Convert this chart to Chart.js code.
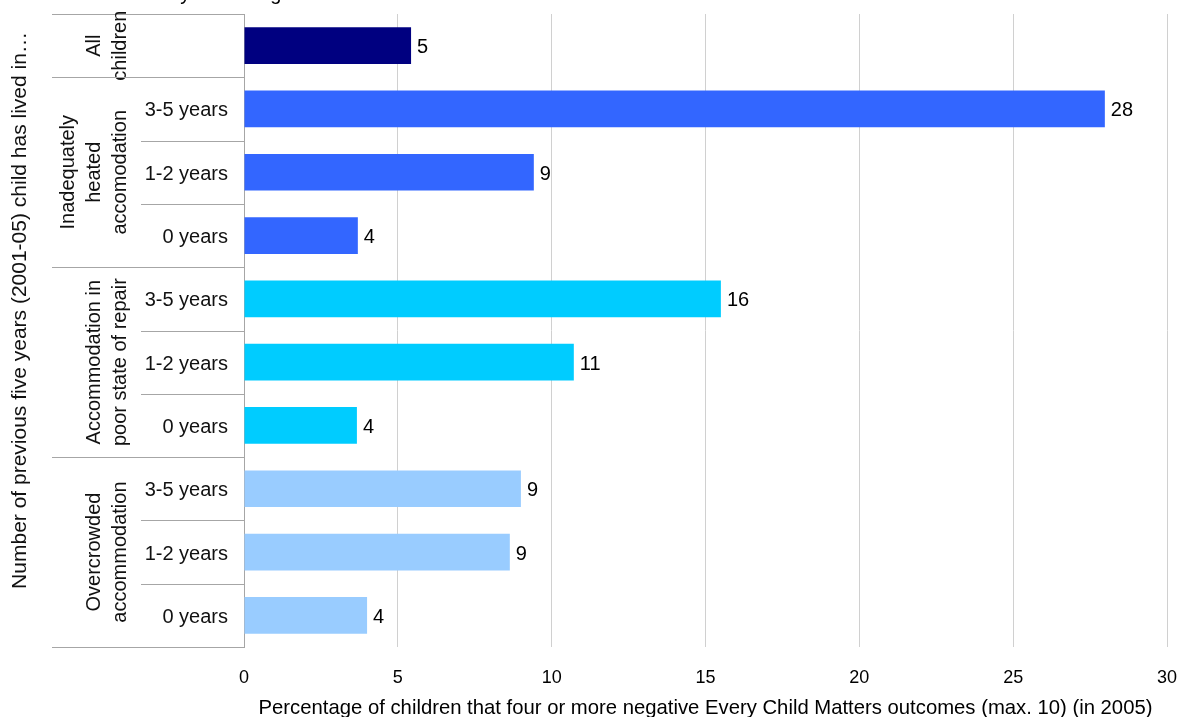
<!DOCTYPE html>
<html>
<head>
<meta charset="utf-8">
<script src="https://cdn.jsdelivr.net/npm/chart.js@4"></script>
<style>
  html, body { margin: 0; padding: 0; background: #fff; }
  #wrap { width: 1181px; height: 717px; }
</style>
</head>
<body>
<div id="wrap"><canvas id="c" width="1181" height="717"></canvas></div>
<script>
// rows top to bottom
const rowLabels = ['', '3-5 years', '1-2 years', '0 years', '3-5 years', '1-2 years', '0 years', '3-5 years', '1-2 years', '0 years'];
const values = [5.43, 27.98, 9.42, 3.7, 15.5, 10.72, 3.67, 9.0, 8.64, 4.0];
const groupNames = [['All', 'children'], ['Inadequately', 'heated', 'accomodation'], ['Accommodation in', 'poor state of repair'], ['Overcrowded', 'accommodation']];
const groupSizes = [1, 3, 3, 3];
const groupColors = ['#000080', '#3366FF', '#00CCFF', '#99CCFF'];
const xTicks = [0, 5, 10, 15, 20, 25, 30];
const yTitle = 'Number of previous five years (2001-05) child has lived in…';

const FONT = 'Arial, "Liberation Sans", sans-serif';

// colour per bar from its group
const barColors = [];
groupSizes.forEach((n, g) => { for (let i = 0; i < n; i++) barColors.push(groupColors[g]); });

// value labels at bar ends
const valueLabels = {
  id: 'valueLabels',
  afterDatasetsDraw(chart) {
    const ctx = chart.ctx;
    const meta = chart.getDatasetMeta(0);
    ctx.save();
    ctx.font = '20px ' + FONT;
    ctx.fillStyle = '#000';
    ctx.textAlign = 'left';
    ctx.textBaseline = 'middle';
    meta.data.forEach((bar, i) => {
      ctx.fillText(String(Math.round(values[i])), bar.x + 6, bar.y + 2);
    });
    ctx.restore();
  }
};

// two-level category axis: group labels and table lines
const groupAxis = {
  id: 'groupAxis',
  afterDraw(chart) {
    const ctx = chart.ctx;
    const y = chart.scales.y;
    const left = chart.chartArea.left;
    const n = rowLabels.length;
    const step = (y.bottom - y.top) / n;
    ctx.save();
    ctx.strokeStyle = '#a6a6a6';
    ctx.lineWidth = 1;
    // sub row lines
    for (let i = 0; i <= n; i++) {
      const yy = Math.round(y.top + i * step) + 0.5;
      ctx.beginPath();
      ctx.moveTo(141, yy);
      ctx.lineTo(left, yy);
      ctx.stroke();
    }
    // group lines + labels
    let start = 0;
    groupSizes.forEach((size, g) => {
      const y0 = y.top + start * step;
      const y1 = y.top + (start + size) * step;
      [y0, y1].forEach(v => {
        const yy = Math.round(v) + 0.5;
        ctx.beginPath();
        ctx.moveTo(52, yy);
        ctx.lineTo(left, yy);
        ctx.stroke();
      });
      const lines = groupNames[g];
      ctx.save();
      ctx.translate(0, (y0 + y1) / 2);
      ctx.rotate(-Math.PI / 2);
      ctx.font = '20px ' + FONT;
      ctx.fillStyle = '#111';
      ctx.textAlign = 'center';
      ctx.textBaseline = 'middle';
      lines.forEach((t, k) => {
        const x = 120 - (lines.length - 1 - k) * 26;
        ctx.fillText(t, 0, x);
      });
      ctx.restore();
      start += size;
    });

    // outer axis title
    ctx.save();
    ctx.translate(20, (y.top + y.bottom) / 2 - 20);
    ctx.rotate(-Math.PI / 2);
    ctx.font = '21px ' + FONT;
    ctx.fillStyle = '#111';
    ctx.textAlign = 'center';
    ctx.textBaseline = 'middle';
    ctx.fillText(yTitle, 0, 0);
    ctx.restore();
    ctx.restore();

    // cut-off heading at the very top
    ctx.save();
    ctx.font = '20px ' + FONT;
    ctx.fillStyle = '#000';
    ctx.textBaseline = 'alphabetic';
    ctx.fillText('Base: Secondary school age children in Britain 2005', 38, 0);
    ctx.restore();
  }
};

new Chart(document.getElementById('c'), {
  type: 'bar',
  data: {
    labels: rowLabels,
    datasets: [{
      data: values,
      backgroundColor: barColors,
      barPercentage: 0.58,
      categoryPercentage: 1.0
    }]
  },
  options: {
    indexAxis: 'y',
    responsive: false,
    animation: false,
    layout: { padding: { top: 14, right: 14, left: 0, bottom: 0 } },
    plugins: { legend: { display: false }, tooltip: { enabled: false } },
    scales: {
      x: {
        min: 0, max: 30,
        afterBuildTicks(scale) { scale.ticks = xTicks.map(v => ({ value: v })); },
        afterFit(scale) {
          scale.height = 70;
          scale.paddingLeft = 0;
          scale.paddingRight = 0;
        },
        grid: { color: '#d0d0d0', drawTicks: false },
        border: { display: false },
        ticks: { padding: 20, color: '#000', font: { size: 18, family: FONT } },
        title: {
          display: true,
          text: 'Percentage of children that four or more negative Every Child Matters outcomes (max. 10) (in 2005)',
          color: '#000',
          font: { size: 20.3, family: FONT },
          padding: { top: 8, bottom: -4 }
        }
      },
      y: {
        afterFit(scale) {
          scale.width = 244;
          scale.paddingTop = 0;
          scale.paddingBottom = 0;
        },
        grid: { display: false, drawTicks: false },
        border: { display: true, color: '#a6a6a6' },
        ticks: { padding: 16, labelOffset: 2, color: '#111', font: { size: 20, family: FONT } }
      }
    }
  },
  plugins: [valueLabels, groupAxis]
});
</script>
</body>
</html>
